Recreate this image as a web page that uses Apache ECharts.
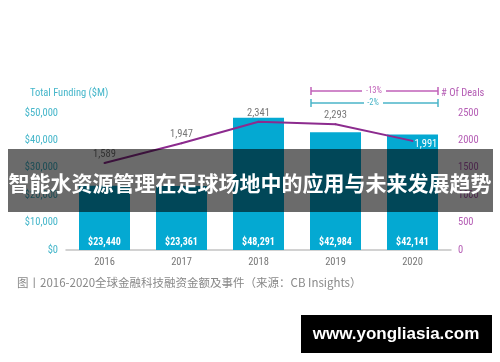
<!DOCTYPE html>
<html><head><meta charset="utf-8">
<script src="https://cdn.jsdelivr.net/npm/echarts@6/dist/echarts.min.js"></script>
<style>html,body{margin:0;padding:0;background:#fff}#c{width:500px;height:362px}</style>
</head><body><div id="c"></div>
<script>
const years = ['2016','2017','2018','2019','2020'];
const funding = [23440, 23361, 48291, 42984, 42141];
const deals = [1589, 1947, 2341, 2293, 1991];
const fundingTicks = [0, 10000, 20000, 30000, 40000, 50000];
const dealTicks = [0, 500, 1000, 1500, 2000, 2500];

const NARROW = '"Roboto Condensed", "Liberation Sans Narrow", "DejaVu Sans Condensed", Roboto, sans-serif';
const CJK = '"Noto Sans CJK SC", sans-serif';
const chart = echarts.init(document.getElementById('c'));
const fmtNum = v => v.toLocaleString('en-US');

chart.setOption({
  animation: false,
  grid: {left: 66, right: 49, top: 113, bottom: 112},
  xAxis: {
    type: 'category', data: years,
    axisLine: {lineStyle: {color: '#c4c4c4', width: 1.5}},
    axisTick: {show: false},
    axisLabel: {color: '#777', fontSize: 10.5, fontFamily: NARROW, margin: 7}
  },
  yAxis: [{
    type: 'value', min: fundingTicks[0], max: fundingTicks[fundingTicks.length-1], interval: 10000,
    splitLine: {show: false}, axisLine: {show: false}, axisTick: {show: false},
    axisLabel: {color: '#45b6ca', fontSize: 10.5, fontFamily: NARROW, margin: 8, formatter: v => '$' + fmtNum(v)}
  }, {
    type: 'value', min: dealTicks[0], max: dealTicks[dealTicks.length-1], interval: 500,
    splitLine: {show: false}, axisLine: {show: false}, axisTick: {show: false},
    axisLabel: {color: '#b45cb4', fontSize: 10.5, fontFamily: NARROW, margin: 7, formatter: v => String(v)}
  }],
  series: [{
    type: 'bar', data: funding, barWidth: 51, yAxisIndex: 0,
    itemStyle: {color: '#04a9d2'},
    label: {show: true, position: 'insideBottom', distance: 3, color: '#fff', fontSize: 10, fontWeight: 'bold',
      fontFamily: NARROW, formatter: p => '$' + fmtNum(p.value)}
  }, {
    type: 'line', data: deals.map((v, i) => i === deals.length - 1 ? {value: v, label: {position: 'right', distance: 1, offset: [0, 3], color: '#fff'}} : v),
    yAxisIndex: 1, symbol: 'circle', symbolSize: 2, showSymbol: true,
    itemStyle: {color: '#8c2b8e'},
    lineStyle: {color: '#8c2b8e', width: 2},
    label: {show: true, position: 'top', distance: 2, color: '#777', fontSize: 10.5, fontFamily: NARROW,
      formatter: p => fmtNum(p.value)}
  }],
  graphic: [
    {type: 'text', left: 30, top: 88, style: {text: 'Total Funding ($M)', fill: '#45b6ca', font: '10.5px ' + NARROW}},
    {type: 'text', left: 441, top: 88, style: {text: '# Of Deals', fill: '#b45cb4', font: '10.5px ' + NARROW}},
    // -13% bracket
    {type: 'line', shape: {x1: 311, y1: 91, x2: 362, y2: 91}, style: {stroke: '#c060b8', lineWidth: 1.5}},
    {type: 'line', shape: {x1: 386, y1: 91, x2: 438, y2: 91}, style: {stroke: '#c060b8', lineWidth: 1.5}},
    {type: 'line', shape: {x1: 311, y1: 87, x2: 311, y2: 95}, style: {stroke: '#c060b8', lineWidth: 1.5}},
    {type: 'line', shape: {x1: 438, y1: 87, x2: 438, y2: 95}, style: {stroke: '#c060b8', lineWidth: 1.5}},
    {type: 'text', x: 374, y: 91, style: {text: '-13%', fill: '#c060b8', font: '8.5px ' + NARROW, align: 'center', verticalAlign: 'middle'}},
    // -2% bracket
    {type: 'line', shape: {x1: 311, y1: 103, x2: 364, y2: 103}, style: {stroke: '#4ab5c8', lineWidth: 1.5}},
    {type: 'line', shape: {x1: 383, y1: 103, x2: 438, y2: 103}, style: {stroke: '#4ab5c8', lineWidth: 1.5}},
    {type: 'line', shape: {x1: 311, y1: 99, x2: 311, y2: 107}, style: {stroke: '#4ab5c8', lineWidth: 1.5}},
    {type: 'line', shape: {x1: 438, y1: 99, x2: 438, y2: 107}, style: {stroke: '#4ab5c8', lineWidth: 1.5}},
    {type: 'text', x: 373, y: 103, style: {text: '-2%', fill: '#4ab5c8', font: '8.5px ' + NARROW, align: 'center', verticalAlign: 'middle'}},
    // overlay band
    {type: 'rect', shape: {x: 8, y: 149, width: 485, height: 63}, style: {fill: 'rgba(0,0,0,0.58)'}, z: 100},
    {type: 'text', x: 250, y: 183, z: 101, style: {text: '智能水资源管理在足球场地中的应用与未来发展趋势', fill: '#fff',
      font: 'bold 21px ' + CJK, align: 'center', verticalAlign: 'middle'}},
    // caption
    {type: 'text', left: 17, y: 283, style: {text: '图丨2016-2020全球金融科技融资金额及事件（来源：CB Insights）', fill: '#888',
      font: '11.5px ' + CJK, verticalAlign: 'middle'}},
    // watermark
    {type: 'rect', shape: {x: 301, y: 315, width: 191, height: 38}, style: {fill: '#000'}, z: 100},
    {type: 'text', x: 396, y: 334, z: 101, style: {text: 'www.yongliasia.com', fill: '#fff',
      font: 'bold 17px "Liberation Sans", sans-serif', align: 'center', verticalAlign: 'middle'}}
  ]
});
</script></body></html>
